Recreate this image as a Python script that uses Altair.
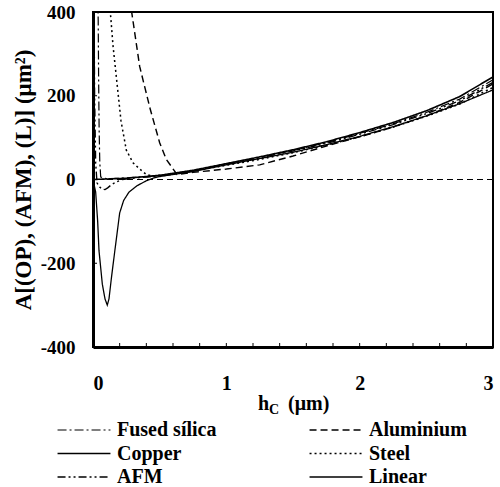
import altair as alt
import pandas as pd

SERIES = ["Fused sílica", "Copper", "AFM", "Aluminium", "Steel", "Linear"]

fused_x = [0.036, 0.039, 0.042, 0.046, 0.051, 0.058, 0.1, 0.2, 0.3, 0.4, 0.5, 0.75, 1.0, 1.25, 1.5, 1.75, 2.0, 2.25, 2.5, 2.75, 3.0]
fused_y = [430, 380, 250, 120, 40, 6, 2, 3, 5, 7, 9, 21, 37, 53, 69, 88, 110, 133, 160, 192, 238]

alu_x = [0.28, 0.29, 0.35, 0.43, 0.5, 0.55, 0.63, 0.75, 1.0, 1.25, 1.5, 1.75, 2.0, 2.25, 2.5, 2.75, 3.0]
alu_y = [430, 400, 270, 167, 88, 48, 12, 17, 25, 35, 56, 80, 102, 125, 152, 184, 228]

copper_x = [0.0, 0.02, 0.035, 0.045, 0.07, 0.09, 0.107, 0.12, 0.14, 0.165, 0.18, 0.2, 0.23, 0.27, 0.33, 0.4, 0.45, 0.5, 0.75, 1.0, 1.25, 1.5, 1.75, 2.0, 2.25, 2.5, 2.75, 3.0]
copper_y = [0, -30, -100, -170, -250, -285, -300, -285, -230, -167, -130, -80, -50, -30, -15, -3, 3, 7, 19, 35, 50, 65, 83, 103, 126, 152, 181, 214]

steel_x = [0.12, 0.13, 0.15, 0.18, 0.21, 0.25, 0.3, 0.35, 0.4, 0.45, 0.5, 0.75, 1.0, 1.25, 1.5, 1.75, 2.0, 2.25, 2.5, 2.75, 3.0]
steel_y = [440, 400, 320, 230, 140, 70, 40, 25, 12, 8, 10, 20, 34, 48, 64, 82, 102, 125, 151, 180, 220]

afm_x = [0.008, 0.012, 0.02, 0.03, 0.05, 0.07, 0.09, 0.11, 0.14, 0.18, 0.22, 0.3, 0.4, 0.5, 0.75, 1.0, 1.25, 1.5, 1.75, 2.0, 2.25, 2.5, 2.75, 3.0]
afm_y = [420, 200, 40, -8, -18, -23, -24, -20, -12, -5, 0, 3, 6, 8, 20, 36, 52, 68, 86, 108, 131, 157, 188, 232]

linear_x = [0.0, 0.25, 0.5, 0.75, 1.0, 1.25, 1.5, 1.75, 2.0, 2.25, 2.5, 2.75, 3.0]
linear_y = [0, 3, 10, 22, 38, 54, 71, 90, 112, 136, 164, 198, 245]

x_ticks = [0.2, 0.4, 0.6, 0.8, 1.0, 1.2, 1.4, 1.6, 1.8, 2.0, 2.2, 2.4, 2.6, 2.8]
y_ticks = [-200, 200]

rows = []
for name, xs, ys in [("Fused sílica", fused_x, fused_y), ("Aluminium", alu_x, alu_y),
                     ("Copper", copper_x, copper_y), ("Steel", steel_x, steel_y),
                     ("AFM", afm_x, afm_y), ("Linear", linear_x, linear_y)]:
    for xv, yv in zip(xs, ys):
        rows.append({"series": name, "h": xv, "A": yv})
df = pd.DataFrame(rows)

FONT = "Liberation Serif"
W, H = 400, 335

xscale = alt.Scale(domain=[0, 3], nice=False, zero=False)
yscale = alt.Scale(domain=[-400, 400], nice=False)

# order: Fused sílica, Copper, AFM, Aluminium, Steel, Linear
dash_range = [[9, 3, 2, 3], [1, 0], [8, 3, 2, 3, 2, 3], [7, 4], [2, 3], [1, 0]]
width_range = [1.2, 1.6, 1.2, 1.4, 1.6, 0.7]

lines = alt.Chart(df).mark_line(clip=True, color="black").encode(
    x=alt.X("h:Q", scale=xscale,
            axis=alt.Axis(values=[0, 1, 2, 3], format="d", title=None, ticks=False,
                          labelPadding=26, labelFontSize=20, labelFont=FONT,
                          labelFontWeight="bold", labelColor="black",
                          domainColor="black", domainWidth=3, grid=False)),
    y=alt.Y("A:Q", scale=yscale,
            axis=alt.Axis(values=[-400, -200, 0, 200, 400], title="A[(OP), (AFM), (L)] (μm²)",
                          labelExpr="'' + datum.value",
                          ticks=False, labelPadding=18, labelFontSize=19, labelFont=FONT,
                          labelFontWeight="bold", labelColor="black",
                          titleFont=FONT, titleFontSize=23, titleFontWeight="bold",
                          titleColor="black", titlePadding=5,
                          domainColor="black", domainWidth=3, grid=False)),
    strokeDash=alt.StrokeDash("series:N", scale=alt.Scale(domain=SERIES, range=dash_range),
                              legend=alt.Legend(title=None, orient="none", legendX=-19, legendY=408,
                                                columns=2, columnPadding=89, rowPadding=3.5,
                                                symbolType="M-5,0H5", symbolSize=112,
                                                symbolStrokeColor="black", symbolStrokeWidth=1.4,
                                                labelFont=FONT, labelFontSize=20,
                                                labelFontWeight="bold", labelColor="black",
                                                labelOffset=23)),
    strokeWidth=alt.StrokeWidth("series:N", scale=alt.Scale(domain=SERIES, range=width_range),
                                legend=None),
    detail="series:N",
)

zero = alt.Chart(pd.DataFrame({"z": [0]})).mark_rule(color="black", strokeDash=[6, 4], strokeWidth=1.2).encode(
    y=alt.Y("z:Q", scale=yscale)
)

xt = alt.Chart(pd.DataFrame({"t": x_ticks})).mark_rule(color="black", strokeWidth=1).encode(
    x=alt.X("t:Q", scale=xscale), y=alt.value(H), y2=alt.value(H - 4)
)
yt = alt.Chart(pd.DataFrame({"t": y_ticks})).mark_rule(color="black", strokeWidth=1).encode(
    y=alt.Y("t:Q", scale=yscale), x=alt.value(0), x2=alt.value(4)
)

t_h = alt.Chart(pd.DataFrame({"txt": ["h"]})).mark_text(font=FONT, fontSize=20, fontWeight="bold",
                                                        align="left", baseline="alphabetic", color="black").encode(
    text="txt:N", x=alt.value(165), y=alt.value(398))
t_c = alt.Chart(pd.DataFrame({"txt": ["C"]})).mark_text(font=FONT, fontSize=14, fontWeight="bold",
                                                        align="left", baseline="alphabetic", color="black").encode(
    text="txt:N", x=alt.value(176), y=alt.value(402))
t_u = alt.Chart(pd.DataFrame({"txt": ["(μm)"]})).mark_text(font=FONT, fontSize=20, fontWeight="bold",
                                                           align="left", baseline="alphabetic", color="black").encode(
    text="txt:N", x=alt.value(195), y=alt.value(398))

chart = alt.layer(zero, lines, xt, yt, t_h, t_c, t_u).properties(
    width=W, height=H,
    autosize=alt.AutoSizeParams(type="none"),
    padding={"left": 93, "top": 12, "right": 7, "bottom": 140},
    background="white",
).configure_view(stroke="black", strokeWidth=2)

chart.save("out.html", embed_options={"renderer": "svg", "actions": False})
